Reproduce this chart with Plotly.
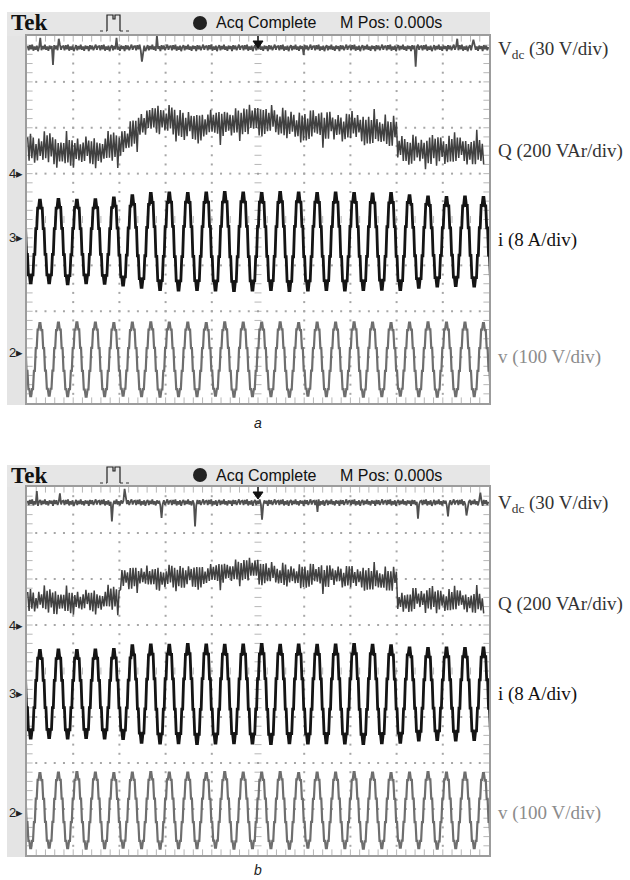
import plotly.graph_objects as go

W, H = 630, 880

# ---------------- data (in scope divisions) ----------------
PERIOD_DIV = 0.4          # one mains cycle = 0.4 div (25 cycles on screen)
FIRST_PEAK_DIV = 0.28     # first positive peak position
# one cycle of the stepped (sampled) waveform, normalised, starting at the peak
STEP_SHAPE = [1.0, 0.81, 0.31, -0.31, -0.81, -1.0, -0.81, -0.31, 0.31, 0.81]
STEP_HOLD = 0.5           # fraction of each sample interval that is held flat

# per-cycle amplitudes (div), cycles -1 .. 24
I_AMP_A = [0.90, 0.90, 0.92, 0.90, 0.91, 0.95, 1.00, 1.05, 1.06, 1.05, 1.06, 1.07, 1.06,
           1.05, 1.07, 1.06, 1.05, 1.06, 1.05, 1.04, 1.05, 1.00, 0.97, 0.96, 0.97, 0.96]
I_AMP_B = [0.96, 0.95, 0.96, 0.95, 0.96, 0.97, 1.05, 1.07, 1.06, 1.08, 1.07, 1.06, 1.07,
           1.08, 1.06, 1.07, 1.06, 1.07, 1.08, 1.06, 1.05, 1.00, 0.99, 1.00, 0.99, 1.00]
V_AMP_A = [0.80, 0.79, 0.80, 0.81, 0.80, 0.79, 0.80, 0.81, 0.80, 0.80, 0.79, 0.81, 0.80,
           0.80, 0.81, 0.79, 0.80, 0.80, 0.81, 0.80, 0.79, 0.80, 0.81, 0.80, 0.80, 0.79]
V_AMP_B = [0.82, 0.81, 0.82, 0.83, 0.82, 0.81, 0.82, 0.83, 0.82, 0.82, 0.81, 0.83, 0.82,
           0.82, 0.83, 0.81, 0.82, 0.82, 0.83, 0.82, 0.81, 0.82, 0.83, 0.82, 0.82, 0.81]
I_OFF = {"a": -0.48, "b": -0.50}
V_OFF = {"a": -3.05, "b": -3.03}

# Q envelope centre (div), one value per 0.2 div
Q_ENV_A = [1.52, 1.50, 1.53, 1.50, 1.48, 1.50, 1.52, 1.50, 1.53, 1.56,
           1.65, 1.85, 2.02, 2.15, 2.22, 2.15, 2.08, 2.05, 2.05, 2.06,
           2.06, 2.07, 2.08, 2.10, 2.14, 2.18, 2.16, 2.12, 2.08, 2.06,
           2.04, 2.03, 2.02, 2.00, 1.98, 2.00, 1.98, 1.96, 1.95, 1.92,
           1.62, 1.50, 1.47, 1.48, 1.50, 1.48, 1.50, 1.52, 1.50, 1.50]
Q_ENV_B = [1.50, 1.52, 1.50, 1.53, 1.50, 1.52, 1.55, 1.53, 1.55, 1.56,
           1.98, 2.00, 2.02, 2.00, 2.03, 2.05, 2.04, 2.06, 2.08, 2.07,
           2.10, 2.12, 2.14, 2.16, 2.18, 2.16, 2.12, 2.10, 2.08, 2.10,
           2.06, 2.05, 2.04, 2.06, 2.02, 2.00, 2.03, 2.01, 2.00, 2.00,
           1.55, 1.52, 1.54, 1.56, 1.52, 1.50, 1.53, 1.52, 1.50, 1.48]
Q_SCALE = {"a": 1.1, "b": 0.85}
Q_RIPPLE = [0.22, 0.18, 0.26, 0.15, 0.24, 0.30, 0.17, 0.21, 0.27, 0.14, 0.23, 0.19, 0.33,
            0.16, 0.25, 0.20, 0.28, 0.13, 0.22, 0.26, 0.18, 0.31, 0.15, 0.24, 0.20, 0.27,
            0.17, 0.23, 0.36, 0.16, 0.21, 0.25, 0.19, 0.29, 0.14, 0.22, 0.26]
Q_JITTER = [0.03, -0.04, 0.06, -0.02, 0.0, 0.05, -0.06, 0.02, -0.03, 0.04, -0.05, 0.01,
            0.06, -0.02, 0.03, -0.06, 0.04, -0.01, 0.02, -0.04, 0.05, -0.03, 0.0]

VDC_LEVEL = {"a": 3.74, "b": 3.66}
VDC_NOISE = [0.04, -0.05, 0.06, -0.03, 0.07, -0.06, 0.03, -0.04, 0.05, -0.07, 0.02, 0.06,
             -0.05, 0.04, -0.03, 0.07, -0.04, 0.03, -0.06, 0.05, -0.02, 0.04, -0.07, 0.06,
             -0.03, 0.05, -0.05, 0.02, 0.07, -0.04, 0.03]
VDC_SPIKES = {
    "a": [(0.28, 0.22), (0.56, -0.37), (0.69, 0.20), (1.94, 0.22), (2.49, -0.30),
          (2.81, 0.26), (6.00, -0.15), (8.42, -0.41), (9.31, 0.20), (9.65, 0.18)],
    "b": [(0.22, 0.25), (0.71, 0.20), (1.84, -0.41), (2.12, 0.30), (2.92, -0.33),
          (3.64, -0.52), (5.09, -0.37), (6.30, -0.20), (8.46, -0.35), (9.11, -0.30),
          (9.50, -0.28), (9.81, 0.22)],
}

CH_MARKS = ["4", "3", "2"]
CH_MARK_Y = {"a": [1.0, -0.40, -2.89], "b": [1.0, -0.48, -3.07]}

LABEL_TEXT = ["V<sub>dc</sub> (30 V/div)", "Q (200 VAr/div)", "i (8 A/div)", "v (100 V/div)"]
LABEL_COLOR = ["#333333", "#333333", "#111111", "#8c8c8c"]

# ---------------- layout geometry (pixels) ----------------
PANELS = [
    dict(name="a", top=36, bottom=403, head=12, xa="x", ya="y",
         label_y=[50, 151, 240, 357], cap_y=423,
         iamp=I_AMP_A, vamp=V_AMP_A, qenv=Q_ENV_A),
    dict(name="b", top=487, bottom=855, head=465, xa="x2", ya="y2",
         label_y=[504, 604, 694, 813], cap_y=870,
         iamp=I_AMP_B, vamp=V_AMP_B, qenv=Q_ENV_B),
]
LEFT, RIGHT, GRAY_L = 27, 489, 7


def px(x):
    return x / W


def py(y):
    return 1 - y / H


def stepped(amps, off):
    n = len(STEP_SHAPE)
    h = PERIOD_DIV / n
    xs, ys = [], []
    for ci, a in enumerate(amps):
        c = ci - 1
        for s, lv in enumerate(STEP_SHAPE):
            x0 = FIRST_PEAK_DIV + PERIOD_DIV * c + s * h - STEP_HOLD * h / 2
            xs += [x0, x0 + STEP_HOLD * h]
            ys += [off + a * lv, off + a * lv]
    return xs, ys


fig = go.Figure()
shapes, annos = [], []

for p in PANELS:
    xa, ya, n = p["xa"], p["ya"], p["name"]
    # ---- graticule ----
    gx, gy = [], []
    for i in [1, 2, 3, 4, 6, 7, 8, 9]:
        for j in range(1, 40):
            gx.append(i); gy.append(-4 + 0.2 * j)
    for i in [-3, -2, -1, 1, 2, 3]:
        for j in range(1, 50):
            gx.append(0.2 * j); gy.append(i)
    fig.add_trace(go.Scatter(x=gx, y=gy, mode="markers", xaxis=xa, yaxis=ya,
                             marker=dict(symbol="square", size=2, color="#a6a6a6",
                                         line=dict(width=0)), hoverinfo="skip"))
    ewx = [5] * 39 + [0] * 39 + [10] * 39
    ewy = [-4 + 0.2 * j for j in range(1, 40)] * 3
    ews = [5] * 39 + [8] * 78
    fig.add_trace(go.Scatter(x=ewx, y=ewy, mode="markers", xaxis=xa, yaxis=ya, cliponaxis=True,
                             marker=dict(symbol="line-ew", size=ews, color="#9a9a9a",
                                         line=dict(width=1, color="#9a9a9a")), hoverinfo="skip"))
    nsx = [0.2 * j for j in range(1, 50)] * 3
    nsy = [0] * 49 + [4] * 49 + [-4] * 49
    nss = [5] * 49 + [8] * 98
    fig.add_trace(go.Scatter(x=nsx, y=nsy, mode="markers", xaxis=xa, yaxis=ya, cliponaxis=True,
                             marker=dict(symbol="line-ns", size=nss, color="#9a9a9a",
                                         line=dict(width=1, color="#9a9a9a")), hoverinfo="skip"))

    # ---- Vdc ----
    vx = [0.0125 + 0.025 * k for k in range(400)]
    vy = [VDC_LEVEL[n] + VDC_NOISE[k % len(VDC_NOISE)] for k in range(400)]
    for t, dy in VDC_SPIKES[n]:
        k = int(round((t - 0.0125) / 0.025))
        vy[k] = VDC_LEVEL[n] + dy
    fig.add_trace(go.Scatter(x=vx, y=vy, mode="lines", xaxis=xa, yaxis=ya,
                             line=dict(color="#505050", width=1.8), hoverinfo="skip"))

    # ---- Q ----
    nq = 330
    qx = [0.015 + 0.03 * k for k in range(nq)]
    qy = []
    for k in range(nq):
        sign = 1 if k % 2 == 0 else -1
        seg = min(int(qx[k] / 0.2), len(p["qenv"]) - 1)
        qy.append(p["qenv"][seg] + sign * Q_RIPPLE[k % len(Q_RIPPLE)] * Q_SCALE[n]
                  + Q_JITTER[k % len(Q_JITTER)])
    fig.add_trace(go.Scatter(x=qx, y=qy, mode="lines", xaxis=xa, yaxis=ya,
                             line=dict(color="#404040", width=1.5), hoverinfo="skip"))

    # ---- i ----
    ix, iy = stepped(p["iamp"], I_OFF[n])
    fig.add_trace(go.Scatter(x=ix, y=iy, mode="lines", xaxis=xa, yaxis=ya,
                             line=dict(color="#141414", width=2.8), hoverinfo="skip"))
    # ---- v ----
    wx, wy = stepped(p["vamp"], V_OFF[n])
    fig.add_trace(go.Scatter(x=wx, y=wy, mode="lines", xaxis=xa, yaxis=ya,
                             line=dict(color="#6e6e6e", width=2.2), hoverinfo="skip"))

    top, bot, head = p["top"], p["bottom"], p["head"]
    hc = (head + top) / 2
    # grey bezel
    shapes.append(dict(type="rect", xref="paper", yref="paper", x0=px(GRAY_L), x1=px(RIGHT + 1),
                       y0=py(top), y1=py(head), fillcolor="#e6e6e6", line=dict(width=0), layer="below"))
    shapes.append(dict(type="rect", xref="paper", yref="paper", x0=px(GRAY_L), x1=px(LEFT),
                       y0=py(bot + 2), y1=py(top), fillcolor="#e4e4e4", line=dict(width=0), layer="below"))
    # acquisition dot
    shapes.append(dict(type="circle", xref="paper", yref="paper", x0=px(193), x1=px(207),
                       y0=py(hc + 6), y1=py(hc - 8), fillcolor="#222222", line=dict(width=0)))
    # pulse icon
    b0, t0 = hc + 7, hc - 9
    path = (f"M{px(107)},{py(b0)} L{px(107)},{py(t0)} L{px(113)},{py(t0)} L{px(113)},{py(t0+4)} "
            f"L{px(115)},{py(t0+4)} L{px(115)},{py(t0)} L{px(120)},{py(t0)} L{px(120)},{py(b0)}")
    shapes.append(dict(type="path", xref="paper", yref="paper", path=path,
                       line=dict(color="#222222", width=1.2)))
    for xa0, xa1 in [(100, 107), (120, 132)]:
        shapes.append(dict(type="line", xref="paper", yref="paper", x0=px(xa0), x1=px(xa1),
                           y0=py(b0), y1=py(b0), line=dict(color="#333333", width=1.2, dash="dot")))
    # trigger arrow
    shapes.append(dict(type="line", xref="paper", yref="paper", x0=px(258), x1=px(258),
                       y0=py(top), y1=py(top + 6), line=dict(color="#111111", width=1.5)))
    tri = f"M{px(253)},{py(top+5)} L{px(263)},{py(top+5)} L{px(258)},{py(top+12)} Z"
    shapes.append(dict(type="path", xref="paper", yref="paper", path=tri,
                       fillcolor="#111111", line=dict(color="#111111", width=1)))

    # header text
    annos.append(dict(text="Tek", x=px(9), y=py(hc - 1), xref="paper", yref="paper",
                      xanchor="left", yanchor="middle", showarrow=False,
                      font=dict(family="Liberation Serif", size=23, color="#111111", weight="bold")))
    annos.append(dict(text="Acq Complete", x=px(214), y=py(hc - 1), xref="paper", yref="paper",
                      xanchor="left", yanchor="middle", showarrow=False,
                      font=dict(family="Liberation Sans", size=16, color="#111111")))
    annos.append(dict(text="M Pos: 0.000s", x=px(338), y=py(hc - 1), xref="paper", yref="paper",
                      xanchor="left", yanchor="middle", showarrow=False,
                      font=dict(family="Liberation Sans", size=16, color="#111111")))
    # channel markers
    for m, yv in zip(CH_MARKS, CH_MARK_Y[n]):
        annos.append(dict(text=m + "▸", x=px(16), y=yv, xref="paper", yref=ya,
                          xanchor="center", yanchor="middle", showarrow=False,
                          font=dict(family="Liberation Sans", size=13, color="#222222")))
    # right-hand labels
    for txt, col, yl in zip(LABEL_TEXT, LABEL_COLOR, p["label_y"]):
        annos.append(dict(text=txt, x=px(496), y=py(yl), xref="paper", yref="paper",
                          xanchor="left", yanchor="middle", showarrow=False,
                          font=dict(family="Liberation Serif", size=19, color=col)))
    # caption
    annos.append(dict(text=n, x=px(258), y=py(p["cap_y"]), xref="paper", yref="paper",
                      xanchor="center", yanchor="middle", showarrow=False,
                      font=dict(family="Liberation Sans", size=14, color="#222222", style="italic")))

axis_common = dict(showticklabels=False, ticks="", showgrid=False, zeroline=False,
                   showline=True, mirror=True, linecolor="#9c9c9c", linewidth=2, fixedrange=True)
lay = dict(width=W, height=H, margin=dict(l=0, r=0, t=0, b=0), showlegend=False,
           paper_bgcolor="white", plot_bgcolor="white", shapes=shapes, annotations=annos)
for p in PANELS:
    suffix = "" if p["xa"] == "x" else "2"
    lay["xaxis" + suffix] = dict(domain=[px(LEFT), px(RIGHT)], range=[0, 10],
                                 anchor=p["ya"], **axis_common)
    lay["yaxis" + suffix] = dict(domain=[py(p["bottom"]), py(p["top"])], range=[-4, 4],
                                 anchor=p["xa"], **axis_common)
fig.update_layout(**lay)
fig.write_html("out.html")
